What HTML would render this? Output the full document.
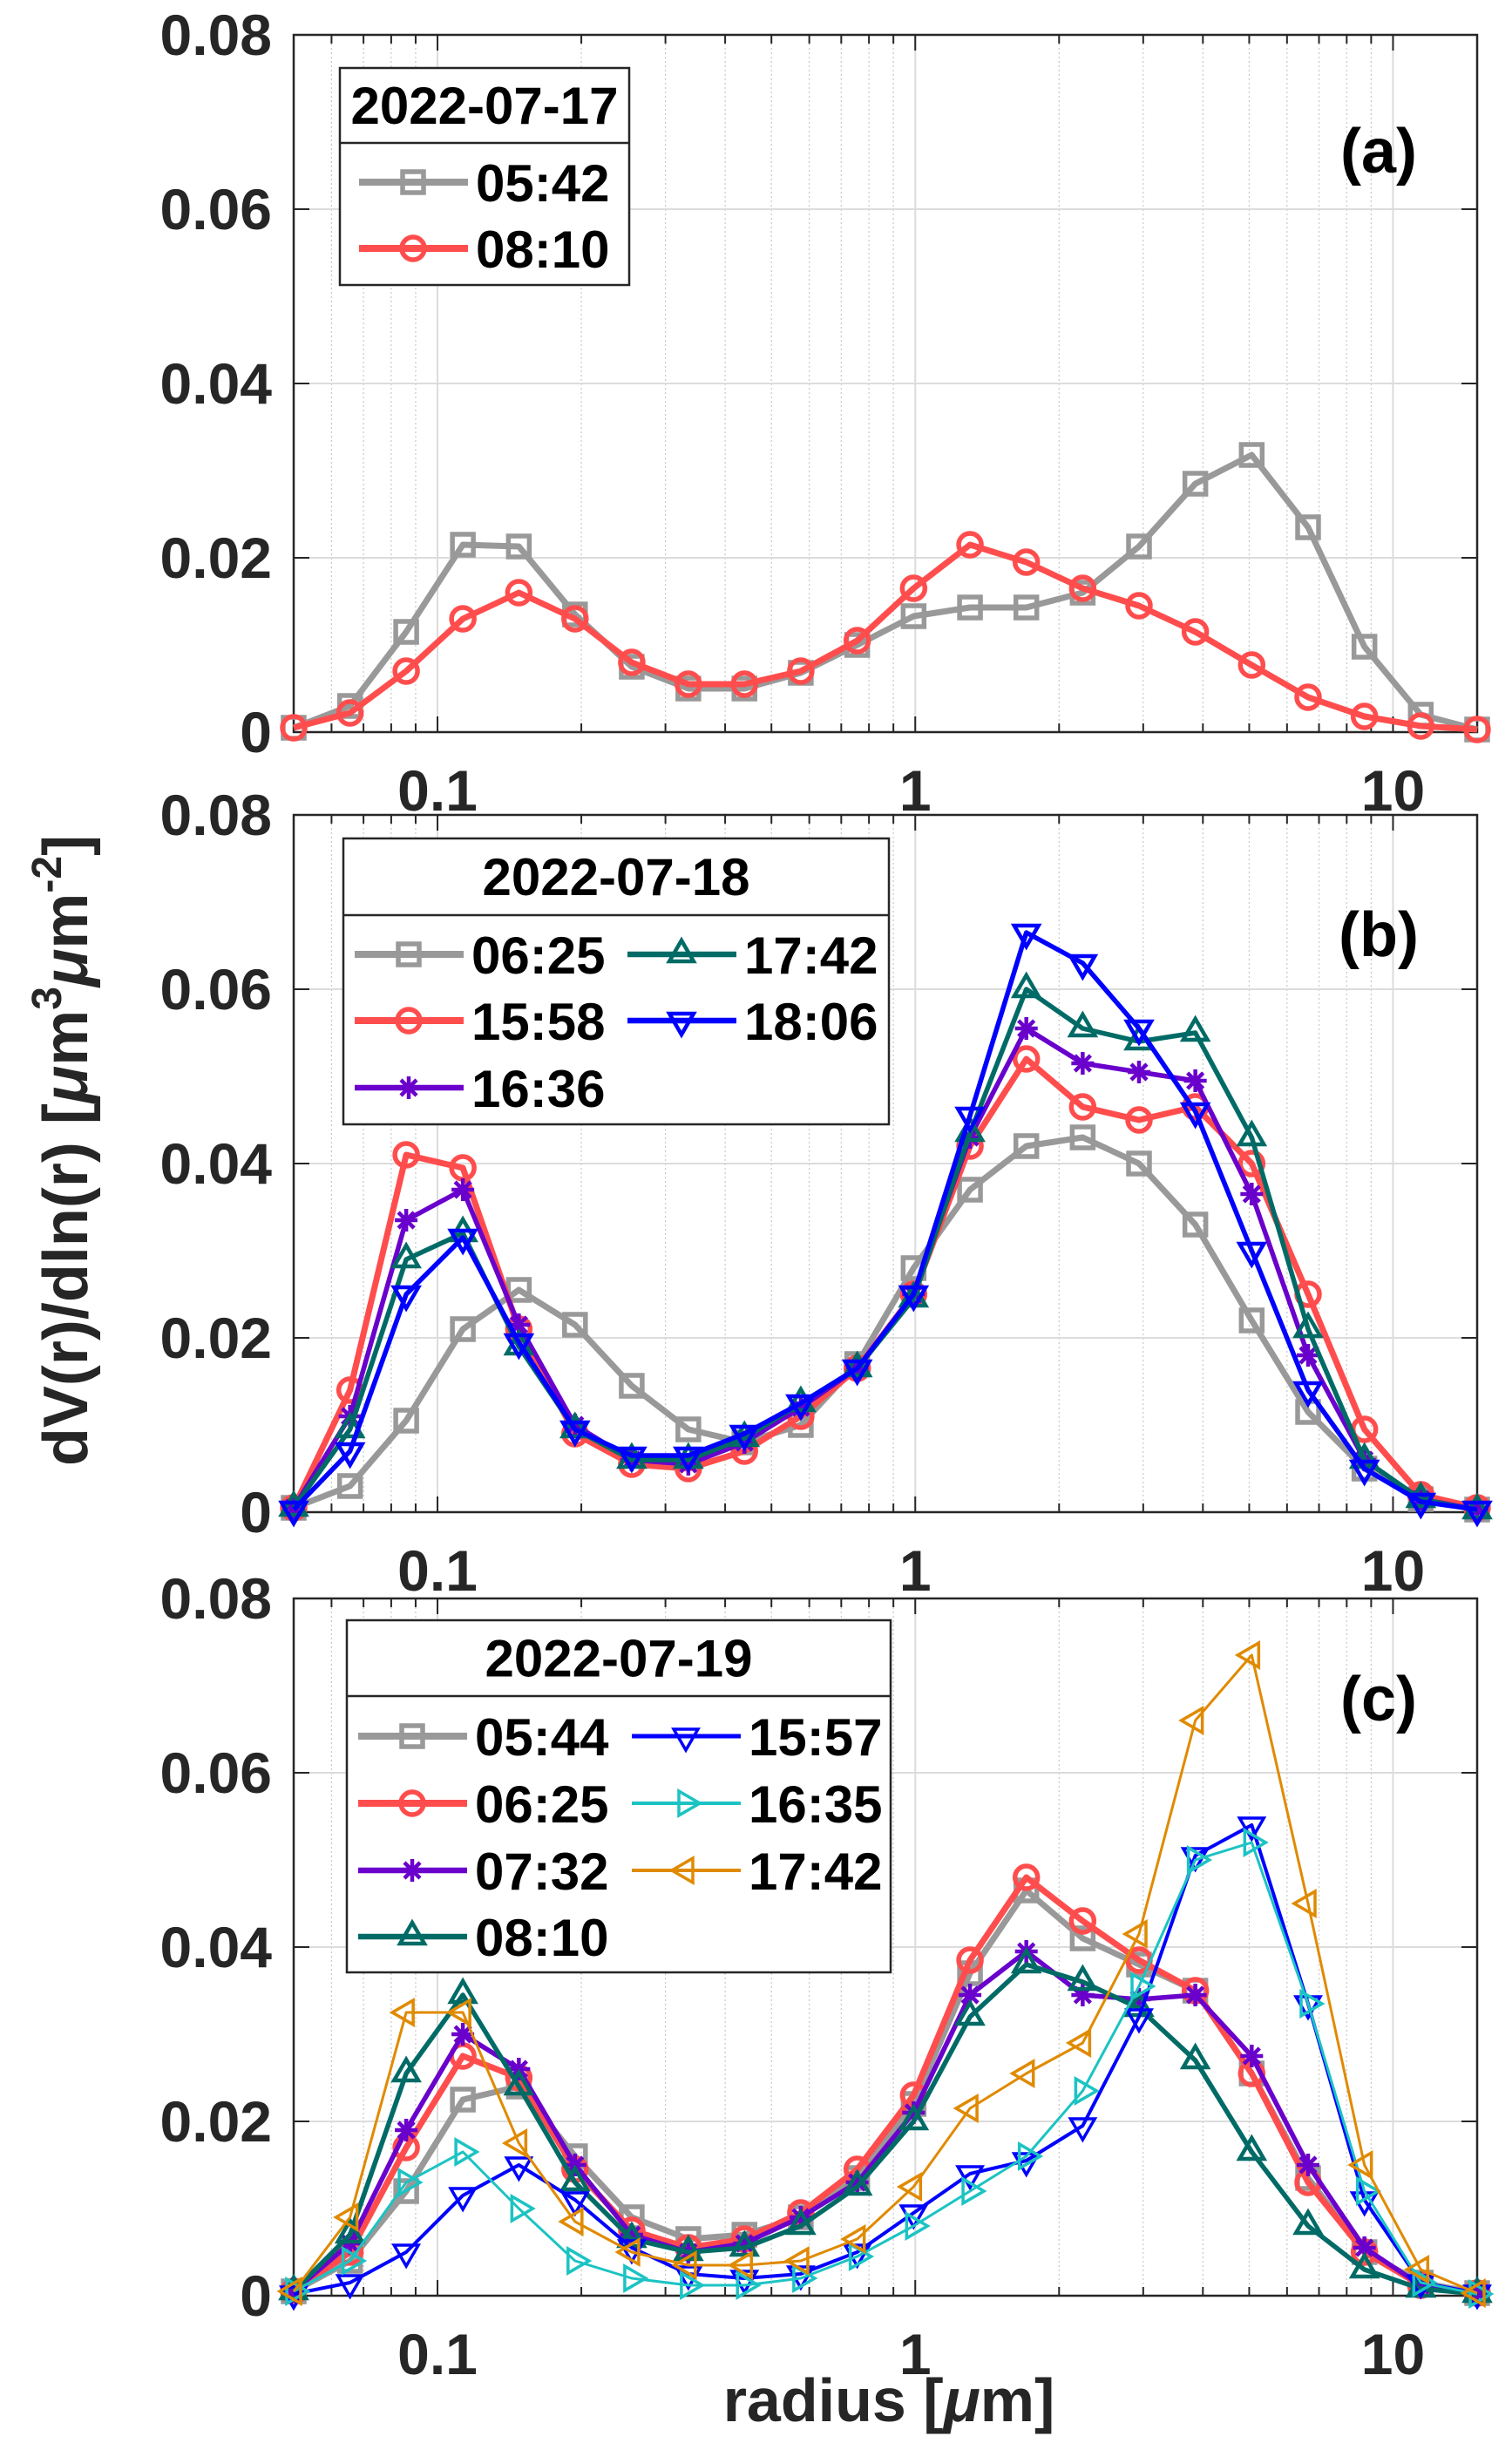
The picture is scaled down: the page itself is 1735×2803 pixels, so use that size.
<!DOCTYPE html>
<html><head><meta charset="utf-8"><style>
html,body{margin:0;padding:0;background:#fff}
svg{display:block;font-family:"Liberation Sans",Arial,sans-serif;font-weight:bold}
</style></head><body>
<svg id="fig" width="1735" height="2803" viewBox="0 0 1735 2803" xmlns="http://www.w3.org/2000/svg">
<text transform="translate(100,1320) rotate(-90)" text-anchor="middle" font-size="72" fill="#262626">dV(r)/dln(r) [<tspan font-style="italic">μ</tspan>m<tspan font-size="48" dy="-30">3</tspan><tspan dy="30" font-style="italic">μ</tspan>m<tspan font-size="48" dy="-30">-2</tspan><tspan dy="30">]</tspan></text>
<text x="1020" y="2778" text-anchor="middle" font-size="70" fill="#262626">radius [<tspan font-style="italic">μ</tspan>m]</text>
</svg>
<script>
const radii=[0.05,0.0656,0.086,0.113,0.148,0.194,0.255,0.335,0.439,0.576,0.756,0.992,1.302,1.708,2.241,2.94,3.857,5.061,6.641,8.713,11.432,15];
const yTicks=[0,0.02,0.04,0.06,0.08];
const yTickLabels=["0","0.02","0.04","0.06","0.08"];
const xTicks=[0.1,1,10];
const xTickLabels=["0.1","1","10"];
// panel a
const a_0542=[0.0005,0.003,0.0115,0.0215,0.0213,0.0135,0.0075,0.005,0.005,0.0068,0.010,0.0133,0.0143,0.0143,0.016,0.0213,0.0285,0.0318,0.0235,0.0098,0.002,0.0003];
const a_0810=[0.0005,0.0022,0.007,0.013,0.016,0.013,0.008,0.0055,0.0055,0.007,0.0105,0.0165,0.0215,0.0195,0.0165,0.0145,0.0115,0.0077,0.004,0.0018,0.0007,0.0003];
// panel b
const b_0625=[0.0005,0.003,0.0105,0.021,0.0255,0.0215,0.0145,0.0095,0.008,0.010,0.017,0.028,0.037,0.042,0.043,0.040,0.033,0.022,0.0115,0.005,0.0015,0.0003];
const b_1558=[0.0005,0.014,0.041,0.0395,0.021,0.009,0.0055,0.005,0.007,0.011,0.0165,0.025,0.042,0.052,0.0465,0.045,0.0465,0.040,0.025,0.0095,0.002,0.0005];
const b_1636=[0.0005,0.011,0.0335,0.037,0.0215,0.010,0.006,0.0055,0.008,0.012,0.0165,0.025,0.043,0.0555,0.0515,0.0505,0.0495,0.0365,0.018,0.006,0.0015,0.0003];
const b_1742=[0.0005,0.0095,0.029,0.032,0.019,0.0095,0.006,0.006,0.0085,0.0125,0.0165,0.0245,0.0435,0.060,0.0555,0.054,0.055,0.043,0.021,0.006,0.0015,0.0002];
const b_1806=[0.0003,0.007,0.025,0.0315,0.0195,0.0095,0.0065,0.0065,0.009,0.0125,0.0165,0.025,0.0455,0.0665,0.063,0.0555,0.046,0.030,0.014,0.005,0.0012,0.0003];
// panel c
const c_0544=[0.0005,0.004,0.012,0.0225,0.024,0.016,0.009,0.0065,0.007,0.009,0.0135,0.022,0.037,0.0465,0.041,0.038,0.035,0.0255,0.0135,0.005,0.0015,0.0003];
const c_0625=[0.0005,0.005,0.017,0.0275,0.025,0.0145,0.0075,0.0055,0.0065,0.0095,0.0145,0.023,0.0385,0.048,0.043,0.0385,0.035,0.0255,0.013,0.005,0.0012,0.0003];
const c_0732=[0.0005,0.006,0.019,0.030,0.026,0.015,0.007,0.005,0.006,0.009,0.013,0.021,0.0345,0.0395,0.0345,0.034,0.0345,0.0275,0.015,0.0055,0.0012,0.0003];
const c_0810=[0.0005,0.007,0.0255,0.0345,0.024,0.013,0.0065,0.005,0.0055,0.008,0.0125,0.020,0.032,0.038,0.036,0.033,0.027,0.0165,0.008,0.003,0.0008,0.0002];
const c_1557=[0.0002,0.0015,0.005,0.0115,0.015,0.011,0.0055,0.0025,0.002,0.0025,0.005,0.0095,0.014,0.0155,0.0195,0.032,0.0505,0.054,0.0335,0.011,0.0015,0.0003];
const c_1635=[0.0005,0.004,0.013,0.0165,0.010,0.004,0.002,0.0012,0.0012,0.002,0.0045,0.008,0.012,0.016,0.0235,0.0355,0.050,0.052,0.0335,0.012,0.0015,0.0002];
const c_1742=[0.0005,0.009,0.0325,0.0325,0.0175,0.0085,0.005,0.0035,0.0035,0.004,0.0065,0.0125,0.0215,0.0255,0.029,0.0415,0.066,0.0735,0.045,0.015,0.003,0.0003];

const NS="http://www.w3.org/2000/svg";
const svg=document.getElementById('fig');
const X0=337,X1=1695,LMIN=Math.log10(0.05),LMAX=Math.log10(15);
function xs(v){return X0+(Math.log10(v)-LMIN)/(LMAX-LMIN)*(X1-X0);}
function mk(tag,at,parent){const e=document.createElementNS(NS,tag);for(const k in at)e.setAttribute(k,at[k]);(parent||svg).appendChild(e);return e;}
const S={gray:'#999999',red:'#ff4d4d',purple:'#6a00cc',teal:'#006b66',blue:'#0000ff',cyan:'#1cc3c3',orange:'#e08a00'};
function marker(g,type,x,y,col,w){
  const r=13;let e;
  if(type==='sq')e=mk('rect',{x:x-r+1,y:y-r+1,width:2*r-2,height:2*r-2,fill:'none',stroke:col,'stroke-width':w},g);
  else if(type==='o')e=mk('circle',{cx:x,cy:y,r:r,fill:'none',stroke:col,'stroke-width':w},g);
  else if(type==='*'){const d=`M${x-r} ${y}H${x+r}M${x} ${y-r}V${y+r}M${x-9} ${y-9}L${x+9} ${y+9}M${x-9} ${y+9}L${x+9} ${y-9}`;e=mk('path',{d:d,stroke:col,'stroke-width':w,fill:'none'},g);}
  else{let p;const R=16;
    if(type==='^')p=[[x,y-R],[x+R*0.87,y+R*0.5],[x-R*0.87,y+R*0.5]];
    if(type==='v')p=[[x,y+R],[x+R*0.87,y-R*0.5],[x-R*0.87,y-R*0.5]];
    if(type==='>')p=[[x+R,y],[x-R*0.5,y-R*0.87],[x-R*0.5,y+R*0.87]];
    if(type==='<')p=[[x-R,y],[x+R*0.5,y-R*0.87],[x+R*0.5,y+R*0.87]];
    e=mk('polygon',{points:p.map(q=>q.join(',')).join(' '),fill:'none',stroke:col,'stroke-width':w},g);}
  
  
}
function panel(cfg){
  const T=cfg.top,B=cfg.top+800;
  const ys=v=>B-v/0.08*(B-T);
  const g=mk('g',{});
  
  
  for(let d=-2;d<=1;d++)for(let m=1;m<=9;m++){const v=m*Math.pow(10,d);if(v<0.05||v>15)continue;const x=xs(v);
    if(m===1){const l=mk('line',{x1:x,y1:T,x2:x,y2:B,stroke:'#dcdcdc','stroke-width':2},g);}
    else{const l=mk('line',{x1:x,y1:T,x2:x,y2:B,stroke:'#c8c8c8','stroke-width':1.2,'stroke-dasharray':'2,3'},g);}
    const tl=m===1?18:10;
    mk('line',{x1:x,y1:B,x2:x,y2:B-tl,stroke:'#262626','stroke-width':2},g);
    mk('line',{x1:x,y1:T,x2:x,y2:T+tl,stroke:'#262626','stroke-width':2},g);}
  yTicks.forEach((v,i)=>{const y=ys(v);
    const l=mk('line',{x1:X0,y1:y,x2:X1,y2:y,stroke:'#dcdcdc','stroke-width':2},g);
    
    mk('line',{x1:X0,y1:y,x2:X0+18,y2:y,stroke:'#262626','stroke-width':2},g);
    mk('line',{x1:X1,y1:y,x2:X1-18,y2:y,stroke:'#262626','stroke-width':2},g);
    const t=mk('text',{x:312,y:y+23,'text-anchor':'end','font-size':66,fill:'#262626'},g);t.textContent=yTickLabels[i];
    });
  xTicks.forEach((v,i)=>{const t=mk('text',{x:xs(v),y:B+90,'text-anchor':'middle','font-size':66,fill:'#262626'},g);t.textContent=xTickLabels[i];
    });
  const fr=mk('rect',{x:X0,y:T,width:X1-X0,height:B-T,fill:'none',stroke:'#262626','stroke-width':2.5},g);
  
  cfg.series.forEach(s=>{
    const sg=mk('g',{},g);
    
    
    const pts=s.data.map((v,i)=>[xs(radii[i]),ys(v)]);
    const pl=mk('polyline',{points:pts.map(p=>p.join(',')).join(' '),fill:'none',stroke:S[s.c],'stroke-width':s.w,'stroke-linejoin':'round'},sg);
    
    pts.forEach(p=>marker(sg,s.m,p[0],p[1],S[s.c],s.w>6?5.5:(s.w>4?4.5:3.5)));
  });
  const L=cfg.leg;
  const lg=mk('g',{},g);
  
  mk('rect',{x:L.x,y:L.y,width:L.w,height:L.h,fill:'#fff',stroke:'#262626','stroke-width':2.5},lg);
  mk('line',{x1:L.x,y1:L.div,x2:L.x+L.w,y2:L.div,stroke:'#262626','stroke-width':2.5},lg);
  const tt=mk('text',{x:L.x+L.w/2,y:(L.y+L.div)/2+21,'text-anchor':'middle','font-size':60,fill:'#000'},lg);tt.textContent=cfg.date;
  
  cfg.series.forEach((s,i)=>{const pos=L.pos[i];
    const eg=mk('g',{},lg);
    
    mk('line',{x1:pos[0],y1:pos[1],x2:pos[0]+125,y2:pos[1],stroke:S[s.c],'stroke-width':s.w+1},eg);
    marker(eg,s.m,pos[0]+62,pos[1],S[s.c],s.w>6?5.5:(s.w>4?4.5:3.5));
    const t=mk('text',{x:pos[0]+134,y:pos[1]+22,'font-size':60,fill:'#000'},eg);t.textContent=s.label;});
  const pt=mk('text',{x:1582,y:cfg.top+cfg.lab,'text-anchor':'middle','font-size':72,fill:'#000'},g);pt.textContent='('+cfg.tag+')';
  
}
panel({tag:'a',top:40,lab:158,date:'2022-07-17',
 leg:{x:390,y:78,w:332,h:249,div:164,pos:[[412,209],[412,285]]},
 series:[{label:'05:42',data:a_0542,c:'gray',m:'sq',w:7},{label:'08:10',data:a_0810,c:'red',m:'o',w:7}]});
panel({tag:'b',top:935,lab:162,date:'2022-07-18',
 leg:{x:394,y:962,w:626,h:328,div:1050,pos:[[407,1095],[407,1171],[407,1248],[720,1095],[720,1171]]},
 series:[{label:'06:25',data:b_0625,c:'gray',m:'sq',w:7},{label:'15:58',data:b_1558,c:'red',m:'o',w:7},{label:'16:36',data:b_1636,c:'purple',m:'*',w:5.5},{label:'17:42',data:b_1742,c:'teal',m:'^',w:5.5},{label:'18:06',data:b_1806,c:'blue',m:'v',w:5.5}]});
panel({tag:'c',top:1834,lab:140,date:'2022-07-19',
 leg:{x:398,y:1859,w:624,h:404,div:1946,pos:[[411,1992],[411,2069],[411,2146],[411,2222],[725,1992],[725,2069],[725,2146]]},
 series:[{label:'05:44',data:c_0544,c:'gray',m:'sq',w:7},{label:'06:25',data:c_0625,c:'red',m:'o',w:7},{label:'07:32',data:c_0732,c:'purple',m:'*',w:5.5},{label:'08:10',data:c_0810,c:'teal',m:'^',w:5.5},{label:'15:57',data:c_1557,c:'blue',m:'v',w:4},{label:'16:35',data:c_1635,c:'cyan',m:'>',w:3},{label:'17:42',data:c_1742,c:'orange',m:'<',w:3}]});
</script>
</body></html>
